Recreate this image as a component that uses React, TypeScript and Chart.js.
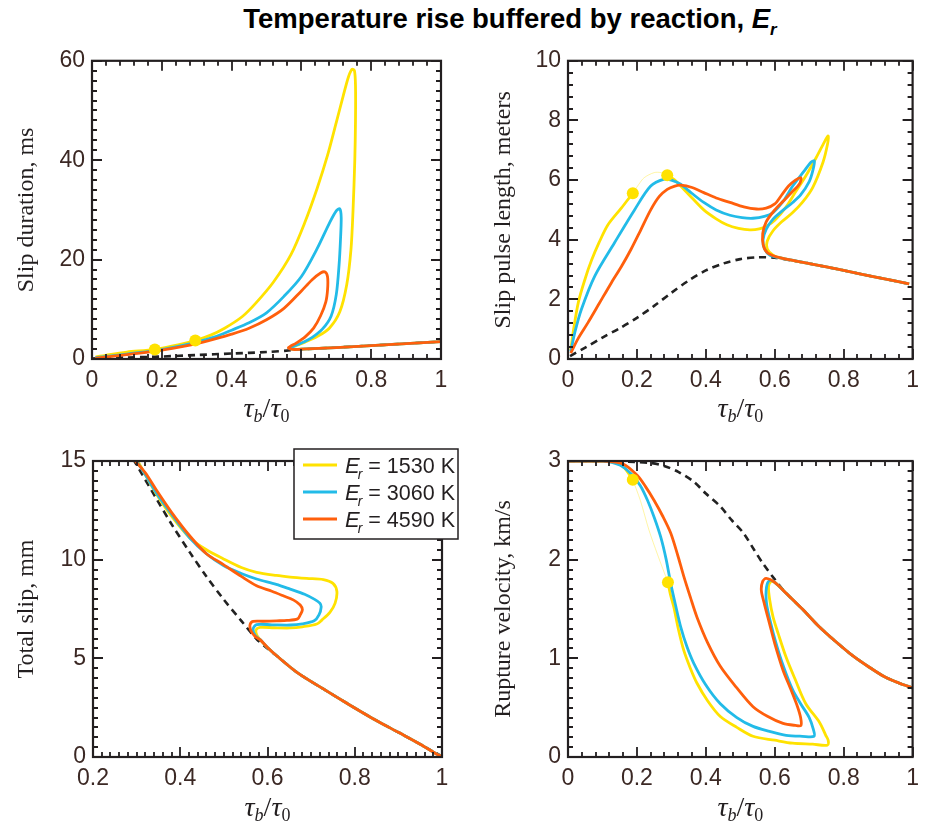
import React, { useEffect, useRef } from "react";
import { Chart, registerables } from "chart.js";
Chart.register(...registerables);

type P = [number, number];

// ---------- Top-left: slip duration (ms) ----------
const tlYellow: P[] = [[0.01,0.4],[0.05,0.9],[0.1,1.4],[0.18,1.95],[0.25,2.9],[0.3,3.8],[0.34,4.8],[0.38,6.2],[0.43,8.5],[0.47,11.3],[0.52,15.5],[0.57,21],[0.61,27.5],[0.645,34.3],[0.675,41],[0.7,47.6],[0.72,53],[0.735,56.8],[0.745,58.3],[0.752,58],[0.755,55],[0.755,48],[0.753,40],[0.748,30],[0.742,22],[0.73,15],[0.71,9.5],[0.68,6.2],[0.645,4.5],[0.61,3.4],[0.58,2.6],[0.565,2.3],[0.575,2.0]];
const tlBlue: P[] = [[0.01,0.25],[0.05,0.6],[0.1,1.0],[0.18,1.7],[0.25,2.6],[0.3,3.4],[0.35,4.4],[0.4,5.8],[0.45,7.3],[0.5,9.3],[0.55,12.6],[0.6,16.6],[0.645,22.2],[0.68,27.3],[0.7,29.8],[0.71,30.2],[0.714,28.5],[0.712,24],[0.708,19],[0.7,13],[0.685,8.6],[0.66,6.0],[0.63,4.3],[0.6,3.2],[0.572,2.4],[0.566,2.15],[0.58,1.97]];
const tlOrange: P[] = [[0.01,0.15],[0.05,0.5],[0.1,0.9],[0.18,1.6],[0.25,2.4],[0.3,3.1],[0.35,4.0],[0.4,5.0],[0.45,6.2],[0.5,7.9],[0.55,10.2],[0.6,13.7],[0.63,15.9],[0.655,17.3],[0.668,17.5],[0.675,16.5],[0.675,14],[0.67,11.5],[0.655,8.7],[0.635,6.2],[0.61,4.4],[0.585,3.2],[0.567,2.5],[0.563,2.2],[0.575,1.93]];
const tlCommon: P[] = [[0.6,1.97],[0.7,2.3],[0.8,2.7],[0.9,3.1],[1.0,3.5]];
const tlDashed: P[] = [[0,0.1],[0.1,0.3],[0.2,0.5],[0.3,0.8],[0.4,1.1],[0.5,1.4],[0.57,1.75],[0.6,1.95],[0.7,2.3],[0.8,2.7],[0.9,3.1],[1.0,3.5]];
const tlDots: P[] = [[0.18,1.9],[0.296,3.7]];

// ---------- Top-right: slip pulse length (m) ----------
const trYellowA: P[] = [[0.008,0.3],[0.015,0.9],[0.03,1.9],[0.05,2.7],[0.068,3.3],[0.09,3.9],[0.116,4.5],[0.154,5.05],[0.188,5.56]];
const trYellowFaint: P[] = [[0.188,5.56],[0.205,5.85],[0.221,6.08],[0.25,6.25],[0.27,6.25],[0.288,6.16]];
const trYellowB: P[] = [[0.288,6.16],[0.31,6.0],[0.327,5.8],[0.36,5.4],[0.394,5.0],[0.43,4.7],[0.461,4.5],[0.495,4.38],[0.528,4.33],[0.555,4.36],[0.576,4.45],[0.6,4.65],[0.633,5.1],[0.66,5.6],[0.69,6.14],[0.72,6.75],[0.745,7.3],[0.755,7.48],[0.753,7.2],[0.74,6.6],[0.71,5.75],[0.68,5.25],[0.652,4.91],[0.62,4.6],[0.595,4.3],[0.578,3.95],[0.578,3.7],[0.595,3.48]];
const trBlue: P[] = [[0.008,0.25],[0.02,0.9],[0.039,1.67],[0.078,2.79],[0.135,3.9],[0.193,5.0],[0.24,5.8],[0.279,6.03],[0.3,6.0],[0.327,5.86],[0.36,5.55],[0.394,5.25],[0.43,5.0],[0.47,4.82],[0.505,4.74],[0.537,4.72],[0.57,4.78],[0.595,4.91],[0.625,5.3],[0.652,5.8],[0.685,6.3],[0.705,6.6],[0.715,6.64],[0.71,6.3],[0.7,5.95],[0.675,5.5],[0.652,5.25],[0.62,4.95],[0.595,4.69],[0.575,4.35],[0.566,4.0],[0.57,3.7],[0.586,3.48]];
const trOrange: P[] = [[0.008,0.2],[0.03,0.7],[0.058,1.22],[0.09,1.85],[0.126,2.56],[0.155,3.1],[0.183,3.68],[0.21,4.3],[0.24,5.0],[0.265,5.45],[0.288,5.69],[0.31,5.8],[0.327,5.83],[0.36,5.75],[0.394,5.58],[0.43,5.4],[0.47,5.25],[0.51,5.1],[0.547,5.03],[0.575,5.06],[0.6,5.2],[0.62,5.5],[0.64,5.8],[0.66,6.0],[0.676,6.08],[0.672,5.88],[0.65,5.6],[0.625,5.3],[0.6,5.0],[0.575,4.6],[0.565,4.2],[0.567,3.8],[0.58,3.55]];
const trCommon: P[] = [[0.62,3.38],[0.7,3.2],[0.8,2.97],[0.9,2.73],[0.99,2.52]];
const trDashed: P[] = [[0.006,0.1],[0.05,0.38],[0.1,0.72],[0.15,1.03],[0.2,1.38],[0.25,1.78],[0.3,2.22],[0.35,2.63],[0.4,2.97],[0.45,3.2],[0.5,3.35],[0.55,3.41],[0.6,3.4],[0.65,3.3],[0.7,3.2],[0.8,2.97],[0.9,2.73],[0.99,2.52]];
const trDots: P[] = [[0.188,5.56],[0.288,6.16]];

// ---------- Bottom-left: total slip (mm) ----------
const blYellow: P[] = [[0.3,15.1],[0.32,14.3],[0.346,13.3],[0.38,12.2],[0.422,11.1],[0.46,10.5],[0.499,10.04],[0.54,9.6],[0.575,9.36],[0.62,9.2],[0.652,9.12],[0.69,9.05],[0.728,8.99],[0.75,8.8],[0.759,8.4],[0.755,7.8],[0.743,7.33],[0.725,6.95],[0.713,6.74],[0.68,6.6],[0.652,6.54],[0.615,6.55],[0.583,6.57],[0.574,6.45],[0.575,6.2],[0.583,5.95]];
const blBlue: P[] = [[0.297,15.1],[0.32,14.3],[0.346,13.35],[0.38,12.3],[0.422,11.1],[0.46,10.3],[0.499,9.7],[0.54,9.3],[0.575,9.02],[0.62,8.75],[0.652,8.51],[0.685,8.25],[0.707,8.0],[0.72,7.8],[0.723,7.6],[0.718,7.2],[0.707,6.9],[0.68,6.75],[0.652,6.69],[0.61,6.7],[0.575,6.71],[0.567,6.49],[0.572,6.15],[0.583,5.95]];
const blOrange: P[] = [[0.293,15.1],[0.32,14.4],[0.346,13.5],[0.38,12.4],[0.422,11.2],[0.46,10.3],[0.499,9.75],[0.54,9.15],[0.575,8.68],[0.61,8.4],[0.636,8.17],[0.66,7.95],[0.675,7.7],[0.68,7.46],[0.675,7.2],[0.669,7.0],[0.645,6.92],[0.621,6.9],[0.59,6.88],[0.567,6.87],[0.56,6.7],[0.562,6.4],[0.572,6.1],[0.583,5.95]];
const blCommon: P[] = [[0.6,5.55],[0.621,5.13],[0.67,4.25],[0.728,3.45],[0.78,2.75],[0.843,1.93],[0.9,1.25],[0.95,0.65],[0.99,0.12],[1.0,0.03]];
const blDashed: P[] = [[0.292,15.1],[0.346,13.07],[0.38,11.8],[0.422,10.37],[0.46,9.15],[0.499,8.0],[0.54,6.9],[0.575,5.98],[0.6,5.5],[0.621,5.13],[0.67,4.25],[0.728,3.45],[0.78,2.75],[0.843,1.93],[0.9,1.25],[0.95,0.65],[1.0,0.03]];

// ---------- Bottom-right: rupture velocity (km/s) ----------
const brYellowA: P[] = [[0,3.0],[0.05,3.0],[0.106,3.0],[0.14,2.98],[0.164,2.93],[0.188,2.81]];
const brYellowFaint: P[] = [[0.188,2.81],[0.21,2.6],[0.235,2.3],[0.26,2.05],[0.29,1.77]];
const brYellowB: P[] = [[0.29,1.77],[0.297,1.65],[0.307,1.52],[0.32,1.3],[0.336,1.08],[0.355,0.9],[0.374,0.75],[0.405,0.57],[0.442,0.41],[0.49,0.3],[0.537,0.21],[0.6,0.17],[0.652,0.14],[0.71,0.13],[0.753,0.12],[0.755,0.17],[0.748,0.22],[0.73,0.35],[0.69,0.54],[0.66,0.78],[0.633,1.01],[0.61,1.25],[0.595,1.42],[0.585,1.6],[0.582,1.73],[0.59,1.78]];
const brBlue: P[] = [[0,3.0],[0.1,3.0],[0.15,2.96],[0.183,2.87],[0.21,2.75],[0.231,2.6],[0.25,2.43],[0.269,2.23],[0.285,2.0],[0.298,1.76],[0.312,1.54],[0.327,1.32],[0.345,1.12],[0.365,0.95],[0.4,0.73],[0.442,0.54],[0.49,0.4],[0.537,0.31],[0.585,0.26],[0.633,0.22],[0.68,0.21],[0.714,0.21],[0.712,0.28],[0.7,0.4],[0.675,0.54],[0.652,0.68],[0.625,0.92],[0.604,1.15],[0.588,1.36],[0.576,1.56],[0.576,1.72],[0.585,1.79]];
const brOrange: P[] = [[0,3.0],[0.1,3.0],[0.16,2.97],[0.202,2.85],[0.225,2.74],[0.25,2.6],[0.275,2.44],[0.298,2.27],[0.318,2.05],[0.336,1.83],[0.355,1.62],[0.374,1.42],[0.405,1.16],[0.442,0.92],[0.49,0.7],[0.537,0.51],[0.58,0.41],[0.624,0.34],[0.66,0.32],[0.676,0.32],[0.675,0.4],[0.665,0.52],[0.645,0.7],[0.624,0.88],[0.6,1.15],[0.585,1.35],[0.57,1.55],[0.561,1.69],[0.565,1.78],[0.575,1.81]];
const brCommon: P[] = [[0.6,1.77],[0.633,1.66],[0.68,1.5],[0.729,1.32],[0.78,1.16],[0.825,1.03],[0.87,0.92],[0.92,0.81],[0.96,0.75],[1.0,0.7]];
const brDashed: P[] = [[0,3.0],[0.1,3.0],[0.193,2.99],[0.24,2.98],[0.279,2.95],[0.32,2.89],[0.365,2.79],[0.4,2.67],[0.442,2.54],[0.475,2.4],[0.509,2.27],[0.54,2.1],[0.566,1.96],[0.6,1.8],[0.633,1.66],[0.68,1.5],[0.729,1.32],[0.78,1.16],[0.825,1.03],[0.87,0.92],[0.92,0.81],[0.96,0.75],[1.0,0.7]];
const brDots: P[] = [[0.188,2.81],[0.29,1.77]];

const legendLabels = ["1530 K", "3060 K", "4590 K"];
const yTitles = ["Slip duration, ms", "Slip pulse length, meters", "Total slip, mm", "Rupture velocity, km/s"];

const YELLOW = "#ffe200";
const BLUE = "#22bbe8";
const ORANGE = "#ff5f0c";
const DARK = "#231f20";
const TICK = "#3b2824";
const SANS = '"Liberation Sans", Arial, sans-serif';
const SERIF = '"Liberation Serif", "Times New Roman", serif';

interface Panel {
  left: number; top: number; width: number; height: number;
  padTop: number; padRight: number; yWidth: number; xHeight: number;
  xMin: number; xMax: number; xStep: number; xMinor: number;
  yMin: number; yMax: number; yStep: number; yMinor: number;
  yTitle: string; yTitlePad: number; xTitleDy: number;
  yellow: P[][]; faint: P[][]; blue: P[]; orange: P[]; dashed: P[]; dots: P[];
  legend?: boolean;
}

const panels: Panel[] = [
  { left: 0, top: 40, width: 460, height: 390, padTop: 20, padRight: 19, yWidth: 92, xHeight: 71,
    xMin: 0, xMax: 1, xStep: 0.2, xMinor: 0.04, yMin: 0, yMax: 60, yStep: 20, yMinor: 2,
    yTitle: yTitles[0], yTitlePad: 12, xTitleDy: 58,
    yellow: [[...tlYellow, ...tlCommon]], faint: [], blue: [...tlBlue, ...tlCommon], orange: [...tlOrange, ...tlCommon], dashed: tlDashed, dots: tlDots },
  { left: 470, top: 40, width: 457, height: 390, padTop: 20, padRight: 11, yWidth: 98, xHeight: 71,
    xMin: 0, xMax: 1, xStep: 0.2, xMinor: 0.04, yMin: 0, yMax: 10, yStep: 2, yMinor: 0.4,
    yTitle: yTitles[1], yTitlePad: 19, xTitleDy: 58,
    yellow: [trYellowA, [...trYellowB, ...trCommon]], faint: [trYellowFaint], blue: [...trBlue, ...trCommon], orange: [...trOrange, ...trCommon], dashed: trDashed, dots: trDots },
  { left: 0, top: 430, width: 470, height: 395, padTop: 31, padRight: 28, yWidth: 93, xHeight: 68,
    xMin: 0.2, xMax: 1, xStep: 0.2, xMinor: 0.02, yMin: 0, yMax: 15, yStep: 5, yMinor: 0.5,
    yTitle: yTitles[2], yTitlePad: 12, xTitleDy: 59,
    yellow: [[...blYellow, ...blCommon]], faint: [], blue: [...blBlue, ...blCommon], orange: [...blOrange, ...blCommon], dashed: blDashed, dots: [], legend: true },
  { left: 470, top: 430, width: 457, height: 395, padTop: 31, padRight: 11, yWidth: 98, xHeight: 68,
    xMin: 0, xMax: 1, xStep: 0.2, xMinor: 0.04, yMin: 0, yMax: 3, yStep: 1, yMinor: 0.1,
    yTitle: yTitles[3], yTitlePad: 19, xTitleDy: 59,
    yellow: [brYellowA, [...brYellowB, ...brCommon]], faint: [brYellowFaint], blue: [...brBlue, ...brCommon], orange: [...brOrange, ...brCommon], dashed: brDashed, dots: brDots },
];

const xy = (a: P[]) => a.map(([x, y]) => ({ x, y }));
const lineDs = (data: P[], color: string, order: number, extra: any = {}) => ({
  data: xy(data), showLine: true, borderColor: color, backgroundColor: color,
  borderWidth: 2.8, pointRadius: 0, tension: 0.3, fill: false, order, ...extra,
});

function makePlugin(p: Panel) {
  return {
    id: "frameTicks",
    afterDraw(chart: any) {
      const { ctx, chartArea: a, scales } = chart;
      const xs = scales.x, ys = scales.y;
      ctx.save();
      ctx.strokeStyle = DARK;
      ctx.lineWidth = 1.8;
      ctx.setLineDash([]);
      ctx.beginPath();
      const nx = Math.round((p.xMax - p.xMin) / p.xMinor);
      for (let i = 0; i <= nx; i++) {
        const v = p.xMin + i * p.xMinor;
        const r = v / p.xStep;
        const L = Math.abs(r - Math.round(r)) < 1e-6 ? 10 : 5;
        const px = Math.round(xs.getPixelForValue(v));
        ctx.moveTo(px, a.bottom); ctx.lineTo(px, a.bottom - L);
        ctx.moveTo(px, a.top); ctx.lineTo(px, a.top + L);
      }
      const ny = Math.round((p.yMax - p.yMin) / p.yMinor);
      for (let i = 0; i <= ny; i++) {
        const v = p.yMin + i * p.yMinor;
        const r = v / p.yStep;
        const L = Math.abs(r - Math.round(r)) < 1e-6 ? 10 : 5;
        const py = Math.round(ys.getPixelForValue(v));
        ctx.moveTo(a.left, py); ctx.lineTo(a.left + L, py);
        ctx.moveTo(a.right, py); ctx.lineTo(a.right - L, py);
      }
      ctx.stroke();
      ctx.lineWidth = 2.2;
      ctx.strokeRect(a.left, a.top, a.right - a.left, a.bottom - a.top);

      // x-axis title: tau_b / tau_0
      const parts = [
        { t: "τ", f: `italic 28px ${SERIF}`, dy: 0 },
        { t: "b", f: `italic 18px ${SERIF}`, dy: 5 },
        { t: "/", f: `28px ${SERIF}`, dy: 0 },
        { t: "τ", f: `italic 28px ${SERIF}`, dy: 0 },
        { t: "0", f: `18px ${SERIF}`, dy: 5 },
      ];
      let total = 0;
      const widths = parts.map((q) => { ctx.font = q.f; const w = ctx.measureText(q.t).width; total += w; return w; });
      let cx = (a.left + a.right) / 2 - total / 2;
      const by = a.bottom + p.xTitleDy;
      ctx.fillStyle = DARK;
      ctx.textBaseline = "alphabetic";
      ctx.textAlign = "left";
      parts.forEach((q, i) => { ctx.font = q.f; ctx.fillText(q.t, cx, by + q.dy); cx += widths[i]; });

      if (p.legend) {
        const bx = a.left + 201, bt = a.top - 12, bw = 164, bh = 90;
        ctx.fillStyle = "#ffffff";
        ctx.fillRect(bx, bt, bw, bh);
        ctx.lineWidth = 1.5;
        ctx.strokeStyle = DARK;
        ctx.strokeRect(bx, bt, bw, bh);
        const cols = [YELLOW, BLUE, ORANGE];
        legendLabels.forEach((lab, i) => {
          const ly = bt + 16 + i * 27;
          ctx.strokeStyle = cols[i];
          ctx.lineWidth = 3.2;
          ctx.beginPath(); ctx.moveTo(bx + 9, ly); ctx.lineTo(bx + 43, ly); ctx.stroke();
          ctx.fillStyle = DARK;
          let tx = bx + 51;
          const base = ly + 8;
          ctx.font = `italic 22px ${SANS}`;
          ctx.fillText("E", tx, base);
          tx += ctx.measureText("E").width - 2;
          ctx.font = `italic 14px ${SANS}`;
          ctx.fillText("r", tx, base + 6);
          tx += ctx.measureText("r").width;
          ctx.font = `21.5px ${SANS}`;
          ctx.fillText(" = " + lab, tx, base);
        });
      }
      ctx.restore();
    },
  };
}

const fmt = (v: any) => String(Number(Number(v).toFixed(3)));

function makeConfig(p: Panel): any {
  const datasets: any[] = [];
  datasets.push({ data: xy(p.dots), showLine: false, pointRadius: 6, pointBorderWidth: 0, pointBackgroundColor: YELLOW, backgroundColor: YELLOW, borderColor: YELLOW, order: 0 });
  datasets.push(lineDs(p.orange, ORANGE, 1));
  datasets.push(lineDs(p.blue, BLUE, 2));
  p.yellow.forEach((s) => datasets.push(lineDs(s, YELLOW, 3)));
  p.faint.forEach((s) => datasets.push(lineDs(s, "rgba(255,226,0,0.35)", 4, { borderWidth: 1 })));
  datasets.push(lineDs(p.dashed, "#222222", 5, { borderDash: [7, 5], borderWidth: 2.6 }));
  const tickFont = { family: SANS, size: 23 };
  return {
    type: "line",
    data: { datasets },
    plugins: [makePlugin(p)],
    options: {
      responsive: false,
      animation: false,
      devicePixelRatio: 1,
      events: [],
      layout: { padding: { left: 0, right: p.padRight, top: p.padTop, bottom: 0 } },
      plugins: { legend: { display: false }, tooltip: { enabled: false }, title: { display: false } },
      scales: {
        x: {
          type: "linear", min: p.xMin, max: p.xMax,
          ticks: { stepSize: p.xStep, padding: 8, font: tickFont, color: TICK, autoSkip: false, maxRotation: 0, callback: fmt },
          grid: { display: false, drawTicks: false }, border: { display: false },
          afterFit: (s: any) => { s.height = p.xHeight; },
        },
        y: {
          type: "linear", min: p.yMin, max: p.yMax,
          ticks: { stepSize: p.yStep, padding: 7, font: tickFont, color: TICK, autoSkip: false, callback: fmt },
          grid: { display: false, drawTicks: false }, border: { display: false },
          title: { display: true, text: p.yTitle, font: { family: SERIF, size: 24 }, color: DARK, padding: { top: p.yTitlePad, bottom: 0 } },
          afterFit: (s: any) => { s.width = p.yWidth; },
        },
      },
    },
  };
}

function PanelChart({ p }: { p: Panel }) {
  const ref = useRef<HTMLCanvasElement>(null);
  useEffect(() => {
    const chart = new Chart(ref.current as HTMLCanvasElement, makeConfig(p));
    return () => chart.destroy();
  }, [p]);
  return (
    <canvas ref={ref} width={p.width} height={p.height}
      style={{ position: "absolute", left: p.left, top: p.top, width: p.width, height: p.height }} />
  );
}

export default function App() {
  return (
    <div style={{ position: "absolute", left: 0, top: 0, width: 927, height: 825, background: "#ffffff", overflow: "hidden" }}>
      <div style={{ position: "absolute", left: 510, top: 3, transform: "translateX(-50%)", whiteSpace: "nowrap",
        fontFamily: '"Liberation Sans", Arial, sans-serif', fontWeight: "bold", fontSize: 27.5, color: "#000", lineHeight: "32px" }}>
        Temperature rise buffered by reaction, <i>E<sub style={{ fontSize: 17, verticalAlign: "-7px", lineHeight: 0 }}>r</sub></i>
      </div>
      {panels.map((p, i) => <PanelChart key={i} p={p} />)}
    </div>
  );
}
